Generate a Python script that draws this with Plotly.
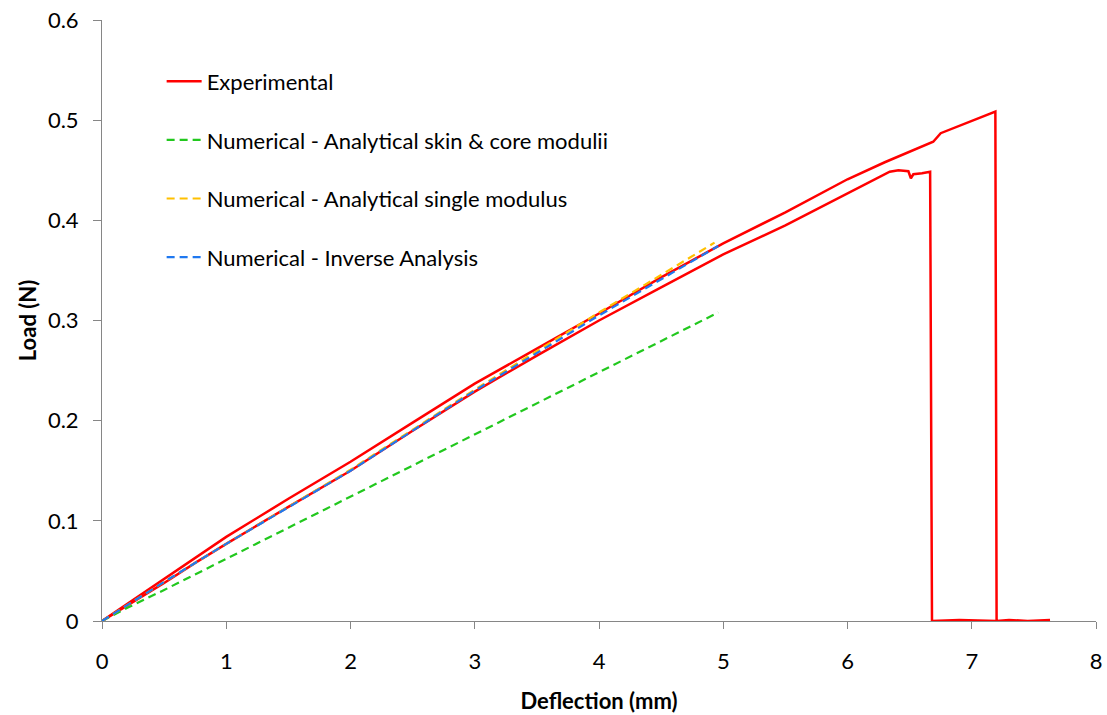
import plotly.graph_objects as go

# Experimental specimen 1 (upper red curve)
exp1_x = [0, 0.25, 0.5, 0.75, 1.0, 1.5, 2.0, 2.5, 3.0, 3.5, 4.0, 4.5, 5.0, 5.5, 6.0,
          6.3, 6.6, 6.69, 6.75, 7.0, 7.19, 7.2, 7.3, 7.45, 7.63]
exp1_y = [0, 0.021, 0.042, 0.063, 0.084, 0.122, 0.159, 0.198, 0.237, 0.272, 0.307,
          0.343, 0.377, 0.408, 0.441, 0.458, 0.474, 0.4785, 0.487, 0.499, 0.5085,
          0.0, 0.001, 0.0, 0.001]

# Experimental specimen 2 (lower red curve)
exp2_x = [0, 0.25, 0.5, 0.75, 1.0, 1.5, 2.0, 2.5, 3.0, 3.5, 4.0, 4.5, 5.0, 5.5, 6.0,
          6.2, 6.34, 6.41, 6.49, 6.51, 6.53, 6.6, 6.665, 6.68, 6.9, 7.2]
exp2_y = [0, 0.019, 0.038, 0.058, 0.077, 0.114, 0.150, 0.190, 0.229, 0.265, 0.300,
          0.333, 0.366, 0.395, 0.427, 0.440, 0.4486, 0.450, 0.449, 0.442, 0.446,
          0.447, 0.4486, 0.0, 0.001, 0.0]

# Numerical - Analytical skin & core modulii
green_x = [0, 0.2, 0.5, 1.0, 2.0, 3.0, 4.0, 4.96]
green_y = [0, 0.013, 0.031, 0.062, 0.124, 0.186, 0.248, 0.308]

# Numerical - Analytical single modulus
orange_x = [0, 0.5, 1.0, 2.0, 3.0, 4.0, 4.93]
orange_y = [0, 0.039, 0.077, 0.151, 0.231, 0.308, 0.3777]

# Numerical - Inverse Analysis
blue_x = [0, 0.5, 1.0, 2.0, 3.0, 4.0, 4.96]
blue_y = [0, 0.039, 0.077, 0.150, 0.230, 0.305, 0.3744]

x_ticks = [0, 1, 2, 3, 4, 5, 6, 7, 8]
y_ticks = [0, 0.1, 0.2, 0.3, 0.4, 0.5, 0.6]
y_tick_text = ["0", "0.1", "0.2", "0.3", "0.4", "0.5", "0.6"]

FONT = "Lato, 'Open Sans', sans-serif"
RED = "#FF0000"
GREEN = "#22C81E"
ORANGE = "#FFC000"
BLUE = "#1F78F0"
DASH = "8px,5px"

fig = go.Figure()
fig.add_trace(go.Scatter(x=exp1_x, y=exp1_y, mode="lines", name="Experimental",
                         legendgroup="exp", line=dict(color=RED, width=2.5)))
fig.add_trace(go.Scatter(x=exp2_x, y=exp2_y, mode="lines", name="Experimental",
                         legendgroup="exp", showlegend=False,
                         line=dict(color=RED, width=2.5)))
fig.add_trace(go.Scatter(x=green_x, y=green_y, mode="lines",
                         name="Numerical - Analytical skin & core modulii",
                         legendgroup="g", line=dict(color=GREEN, width=2.2, dash=DASH)))
fig.add_trace(go.Scatter(x=orange_x, y=orange_y, mode="lines",
                         name="Numerical - Analytical single modulus",
                         legendgroup="o", line=dict(color=ORANGE, width=2.2, dash=DASH)))
fig.add_trace(go.Scatter(x=blue_x, y=blue_y, mode="lines",
                         name="Numerical - Inverse Analysis",
                         legendgroup="b", line=dict(color=BLUE, width=2.2, dash=DASH)))

axis_common = dict(
    showgrid=False, zeroline=False, showline=True, linecolor="#868686", linewidth=1,
    ticks="outside", tickcolor="#868686", tickwidth=1,
    tickfont=dict(family=FONT, size=22, color="#000000"),
    mirror=False, automargin=False,
)

fig.update_layout(
    width=1107, height=715,
    margin=dict(l=102, r=11, t=20, b=94),
    paper_bgcolor="white", plot_bgcolor="white",
    font=dict(family=FONT, size=22, color="#000000"),
    xaxis=dict(range=[0, 8], tickvals=x_ticks, ticklen=7, ticklabelstandoff=14,
               title=dict(text="<b>Deflection (mm)</b>", font=dict(family=FONT, size=22),
                          standoff=20),
               **axis_common),
    yaxis=dict(range=[0, 0.6], tickvals=y_ticks, ticktext=y_tick_text,
               ticklen=8, ticklabelstandoff=10,
               title=dict(text="<b>Load (N)</b>", font=dict(family=FONT, size=22),
                          standoff=5),
               **axis_common),
    legend=dict(x=0.06, y=0.9326, xanchor="left", yanchor="top",
                bgcolor="rgba(0,0,0,0)", borderwidth=0,
                font=dict(family=FONT, size=22, color="#000000"),
                tracegroupgap=27, itemwidth=35),
    showlegend=True,
)

fig.write_html("out.html")
